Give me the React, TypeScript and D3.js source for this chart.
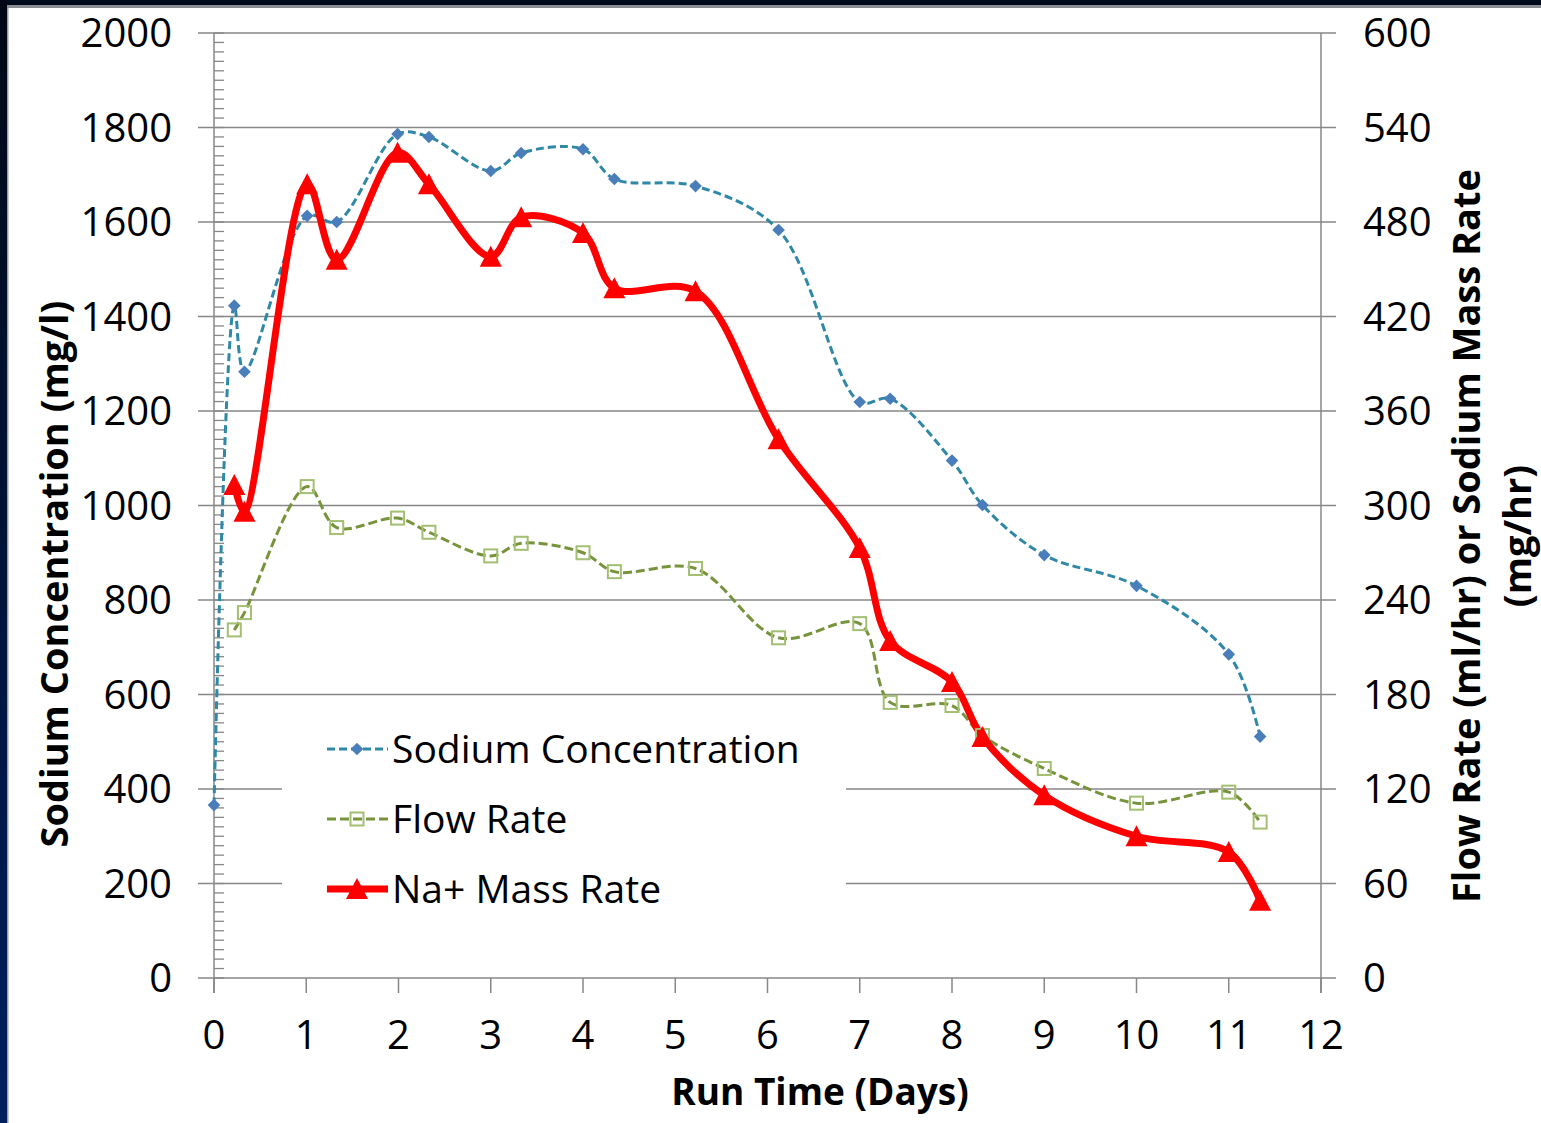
import React, { useEffect, useRef } from "react";
import * as d3 from "d3";

// run time in days, shared by all three series
const days = [0, 0.22, 0.33, 1.01, 1.33, 1.99, 2.33, 3.0, 3.33, 4.0, 4.34, 5.22, 6.12, 7.0, 7.33, 8.0, 8.33, 9.0, 10.0, 11.0, 11.34];
// mg/l, left axis
const sodiumConc = [366, 1423, 1283, 1613, 1600, 1786, 1780, 1708, 1746, 1754, 1691, 1676, 1583, 1219, 1226, 1095, 1001, 895, 830, 685, 511];
// ml/hr, right axis
const flowRate = [null, 221, 232, 312, 286, 292, 283, 268, 276, 270, 258, 260, 216, 225, 175, 173, 154, 133, 111, 118, 99];
// mg/hr, right axis
const massRate = [null, 313, 296, 504, 456, 524, 504, 458, 483, 473, 438, 436, 342, 273, 214, 188, 153, 116, 90, 80, 49];

const leftTicks = [0, 200, 400, 600, 800, 1000, 1200, 1400, 1600, 1800, 2000];
const rightTicks = [0, 60, 120, 180, 240, 300, 360, 420, 480, 540, 600];
const dayTicks = [0, 1, 2, 3, 4, 5, 6, 7, 8, 9, 10, 11, 12];

const legendItems = ["Sodium Concentration", "Flow Rate", "Na+ Mass Rate"];

const FONT = "'Open Sans', sans-serif";

const App = () => {
  const ref = useRef<SVGSVGElement>(null);

  useEffect(() => {
    const svg = d3.select(ref.current);
    svg.selectAll("*").remove();

    const W = 1541;
    const H = 1123;

    const x = d3.scaleLinear().domain([0, 12]).range([214, 1321]);
    const yL = d3.scaleLinear().domain([0, 2000]).range([978, 33]);
    const yR = d3.scaleLinear().domain([0, 600]).range([978, 33]);
    const gridX0 = 198;
    const gridX1 = 1336;

    svg.append("rect").attr("width", W).attr("height", H).attr("fill", "#ffffff");

    // slide frame (dark band on top and left)
    const grad = svg.append("defs").append("linearGradient")
      .attr("id", "frameGrad").attr("x1", 0).attr("y1", 0).attr("x2", 0).attr("y2", 1);
    grad.append("stop").attr("offset", "0%").attr("stop-color", "#000814");
    grad.append("stop").attr("offset", "100%").attr("stop-color", "#00205e");
    svg.append("rect").attr("x", 0).attr("y", 0).attr("width", W).attr("height", 5).attr("fill", "#000a1c");
    svg.append("rect").attr("x", 0).attr("y", 5).attr("width", W).attr("height", 3).attr("fill", "#8a8d92");
    svg.append("rect").attr("x", 0).attr("y", 0).attr("width", 7).attr("height", H).attr("fill", "url(#frameGrad)");
    svg.append("rect").attr("x", 7).attr("y", 8).attr("width", 1.5).attr("height", H).attr("fill", "#9a9ca2");

    // gridlines
    svg.append("g")
      .selectAll("line")
      .data(leftTicks)
      .join("line")
      .attr("x1", gridX0)
      .attr("x2", gridX1)
      .attr("y1", (d) => yL(d))
      .attr("y2", (d) => yL(d))
      .attr("stroke", "#878787")
      .attr("stroke-width", 1.6);

    // left axis with minor ticks
    svg.append("line")
      .attr("x1", x(0)).attr("x2", x(0))
      .attr("y1", yL(2000)).attr("y2", yL(0) + 15)
      .attr("stroke", "#878787").attr("stroke-width", 1.5);
    svg.append("g")
      .selectAll("line")
      .data(d3.range(0, 2001, 20))
      .join("line")
      .attr("x1", x(0))
      .attr("x2", x(0) + 10)
      .attr("y1", (d) => yL(d))
      .attr("y2", (d) => yL(d))
      .attr("stroke", "#878787")
      .attr("stroke-width", 1.3);

    // right axis
    svg.append("line")
      .attr("x1", x(12)).attr("x2", x(12))
      .attr("y1", yR(600)).attr("y2", yR(0) + 15)
      .attr("stroke", "#878787").attr("stroke-width", 1.5);

    // x ticks
    svg.append("g")
      .selectAll("line")
      .data(dayTicks)
      .join("line")
      .attr("x1", (d) => x(d))
      .attr("x2", (d) => x(d))
      .attr("y1", yL(0))
      .attr("y2", yL(0) + 15)
      .attr("stroke", "#878787")
      .attr("stroke-width", 1.5);

    // tick labels
    svg.append("g")
      .selectAll("text")
      .data(leftTicks)
      .join("text")
      .attr("x", 172)
      .attr("y", (d) => yL(d))
      .attr("dy", "0.36em")
      .attr("text-anchor", "end")
      .attr("font-family", FONT)
      .attr("font-size", 40)
      .attr("fill", "#000")
      .text((d) => d);

    svg.append("g")
      .selectAll("text")
      .data(rightTicks)
      .join("text")
      .attr("x", 1363)
      .attr("y", (d) => yR(d))
      .attr("dy", "0.36em")
      .attr("font-family", FONT)
      .attr("font-size", 40)
      .attr("fill", "#000")
      .text((d) => d);

    svg.append("g")
      .selectAll("text")
      .data(dayTicks)
      .join("text")
      .attr("x", (d) => x(d))
      .attr("y", 1035)
      .attr("dy", "0.36em")
      .attr("text-anchor", "middle")
      .attr("font-family", FONT)
      .attr("font-size", 40)
      .attr("fill", "#000")
      .text((d) => d);

    // series
    const concPts = days.map((d, i) => [x(d), yL(sodiumConc[i])] as [number, number]);
    const flowPts = days
      .map((d, i) => (flowRate[i] == null ? null : ([x(d), yR(flowRate[i] as number)] as [number, number])))
      .filter((p) => p != null) as [number, number][];
    const massPts = days
      .map((d, i) => (massRate[i] == null ? null : ([x(d), yR(massRate[i] as number)] as [number, number])))
      .filter((p) => p != null) as [number, number][];

    const smooth = d3.line().curve(d3.curveCatmullRom.alpha(0.5));

    const blueLine = "#2f88a6";
    const blueMark = "#4a7ebb";
    const greenLine = "#77933c";
    const greenMark = "#a3bf72";
    const red = "#ff0000";

    svg.append("path")
      .attr("d", smooth(flowPts))
      .attr("fill", "none")
      .attr("stroke", greenLine)
      .attr("stroke-width", 3)
      .attr("stroke-dasharray", "9,4");

    svg.append("path")
      .attr("d", smooth(concPts))
      .attr("fill", "none")
      .attr("stroke", blueLine)
      .attr("stroke-width", 3)
      .attr("stroke-dasharray", "8,4");

    svg.append("path")
      .attr("d", smooth(massPts))
      .attr("fill", "none")
      .attr("stroke", red)
      .attr("stroke-width", 7)
      .attr("stroke-linejoin", "round");

    const diamond = d3.symbol(d3.symbolSquare, 80)();
    const triangle = "M0,-11L11,10L-11,10Z";

    const drawSquares = (g, pts) =>
      g.selectAll("rect")
        .data(pts)
        .join("rect")
        .attr("x", (p) => p[0] - 6.5)
        .attr("y", (p) => p[1] - 6.5)
        .attr("width", 13)
        .attr("height", 13)
        .attr("fill", "none")
        .attr("stroke", greenMark)
        .attr("stroke-width", 2);

    const drawDiamonds = (g, pts) =>
      g.selectAll("path")
        .data(pts)
        .join("path")
        .attr("d", diamond)
        .attr("transform", (p) => `translate(${p[0]},${p[1]}) rotate(45)`)
        .attr("fill", blueMark);

    const drawTriangles = (g, pts) =>
      g.selectAll("path")
        .data(pts)
        .join("path")
        .attr("d", triangle)
        .attr("transform", (p) => `translate(${p[0]},${p[1]})`)
        .attr("fill", red);

    drawSquares(svg.append("g"), flowPts);
    drawDiamonds(svg.append("g"), concPts);
    drawTriangles(svg.append("g"), massPts);

    // legend
    const legend = svg.append("g");
    legend.append("rect")
      .attr("x", 282).attr("y", 712)
      .attr("width", 564).attr("height", 215)
      .attr("fill", "#ffffff");
    const rowY = [749, 819, 889];
    const styles = [
      { stroke: blueLine, width: 3, dash: "8,4" },
      { stroke: greenLine, width: 3, dash: "9,4" },
      { stroke: red, width: 7, dash: null },
    ];
    legendItems.forEach((name, i) => {
      const y = rowY[i];
      legend.append("line")
        .attr("x1", 327).attr("x2", 388)
        .attr("y1", y).attr("y2", y)
        .attr("stroke", styles[i].stroke)
        .attr("stroke-width", styles[i].width)
        .attr("stroke-dasharray", styles[i].dash);
      const mg = legend.append("g");
      if (i === 0) drawDiamonds(mg, [[357, y]]);
      if (i === 1) drawSquares(mg, [[357, y]]);
      if (i === 2) drawTriangles(mg, [[357, y]]);
      legend.append("text")
        .attr("x", 392)
        .attr("y", y)
        .attr("dy", "0.36em")
        .attr("font-family", FONT)
        .attr("font-size", 39)
        .attr("fill", "#000")
        .text(name);
    });

    // axis titles
    svg.append("text")
      .attr("x", 820)
      .attr("y", 1105)
      .attr("text-anchor", "middle")
      .attr("font-family", FONT)
      .attr("font-weight", "bold")
      .attr("font-size", 37)
      .text("Run Time (Days)");

    svg.append("text")
      .attr("transform", "translate(68,574) rotate(-90)")
      .attr("text-anchor", "middle")
      .attr("font-family", FONT)
      .attr("font-weight", "bold")
      .attr("font-size", 38)
      .text("Sodium Concentration (mg/l)");

    svg.append("text")
      .attr("transform", "translate(1480,536) rotate(-90)")
      .attr("text-anchor", "middle")
      .attr("font-family", FONT)
      .attr("font-weight", "bold")
      .attr("font-size", 38)
      .text("Flow Rate (ml/hr) or Sodium Mass Rate");

    svg.append("text")
      .attr("transform", "translate(1531,536) rotate(-90)")
      .attr("text-anchor", "middle")
      .attr("font-family", FONT)
      .attr("font-weight", "bold")
      .attr("font-size", 38)
      .text("(mg/hr)");
  }, []);

  return (
    <svg
      ref={ref}
      width={1541}
      height={1123}
      style={{ position: "absolute", left: 0, top: 0, display: "block" }}
    />
  );
};

export default App;
